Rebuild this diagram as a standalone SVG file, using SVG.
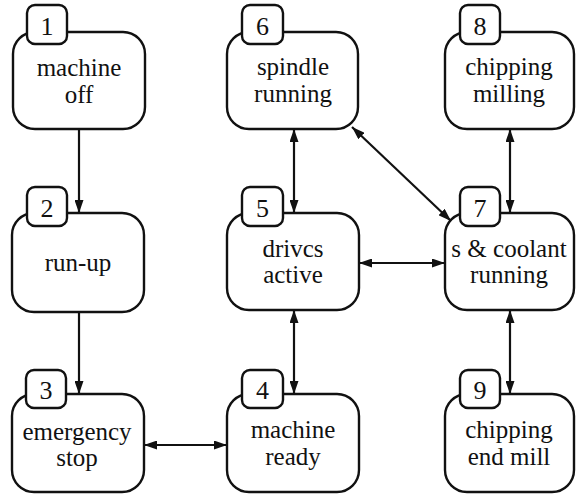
<svg xmlns="http://www.w3.org/2000/svg" width="577" height="498" viewBox="0 0 577 498">
  <defs>
    <marker id="head" viewBox="0 0 13 9" refX="13" refY="4.5" markerWidth="13" markerHeight="9" markerUnits="userSpaceOnUse" orient="auto-start-reverse">
      <path d="M0,0 L13,4.5 L0,9 z" fill="#111"/>
    </marker>
    <style>
      .box { fill: #fff; stroke: #111; stroke-width: 2.4; }
      .badge { fill: #fff; stroke: #111; stroke-width: 2.4; }
      text { font-family: "Times New Roman", Times, "Liberation Serif", "Noto Serif", "DejaVu Serif", serif; fill: #111; text-anchor: middle; }
      .lbl { font-size: 25px; }
      .num { font-size: 26px; }
      .one { fill: none; stroke: #111; stroke-width: 2.2; marker-end: url(#head); }
      .two { fill: none; stroke: #111; stroke-width: 2.2; marker-start: url(#head); marker-end: url(#head); }
    </style>
  </defs>

  <rect width="577" height="498" fill="#fff"/>

  <!-- state transitions -->
  <g id="connectors">
    <path class="one" d="M79,129 L79,213"/>
    <path class="one" d="M79,312 L79,394"/>
    <path class="two" d="M144,445 L227,445"/>
    <path class="two" d="M294,310 L294,394"/>
    <path class="two" d="M294,129 L294,213"/>
    <path class="two" d="M359,263 L445,263"/>
    <path class="two" d="M352,127 L451,221"/>
    <path class="two" d="M510,129 L510,213"/>
    <path class="two" d="M510,310 L510,394"/>
  </g>

  <!-- top row -->
  <g id="node1">
    <rect class="box" x="13" y="32" width="132" height="97" rx="22"/>
    <rect class="badge" x="27" y="5" width="40" height="39" rx="8"/>
    <text class="num" x="47" y="35">1</text>
    <text class="lbl" x="79" y="76">machine</text>
    <text class="lbl" x="79" y="103">off</text>
  </g>
  <g id="node6">
    <rect class="box" x="227" y="32" width="131" height="97" rx="22"/>
    <rect class="badge" x="242" y="5" width="41" height="39" rx="8"/>
    <text class="num" x="262.5" y="35">6</text>
    <text class="lbl" x="293" y="75">spindle</text>
    <text class="lbl" x="293" y="102">running</text>
  </g>
  <g id="node8">
    <rect class="box" x="445" y="32" width="129" height="97" rx="22"/>
    <rect class="badge" x="460" y="5" width="40" height="39" rx="8"/>
    <text class="num" x="480" y="35">8</text>
    <text class="lbl" x="509" y="75">chipping</text>
    <text class="lbl" x="509" y="102">milling</text>
  </g>

  <!-- middle row -->
  <g id="node2">
    <rect class="box" x="12" y="213" width="132" height="99" rx="22"/>
    <rect class="badge" x="27" y="187" width="40" height="39" rx="8"/>
    <text class="num" x="47" y="217">2</text>
    <text class="lbl" x="78" y="271">run-up</text>
  </g>
  <g id="node5">
    <rect class="box" x="227" y="213" width="132" height="97" rx="22"/>
    <rect class="badge" x="242" y="187" width="41" height="39" rx="8"/>
    <text class="num" x="262.5" y="217">5</text>
    <text class="lbl" x="293" y="257">drivcs</text>
    <text class="lbl" x="293" y="283">active</text>
  </g>
  <g id="node7">
    <rect class="box" x="445" y="213" width="129" height="97" rx="22"/>
    <rect class="badge" x="460" y="187" width="40" height="39" rx="8"/>
    <text class="num" x="480" y="217">7</text>
    <text class="lbl" x="509" y="257">s &amp; coolant</text>
    <text class="lbl" x="509" y="283">running</text>
  </g>

  <!-- bottom row -->
  <g id="node3">
    <rect class="box" x="12" y="394" width="132" height="98" rx="22"/>
    <rect class="badge" x="26" y="370" width="40" height="38" rx="8"/>
    <text class="num" x="46" y="399">3</text>
    <text class="lbl" x="77" y="440">emergency</text>
    <text class="lbl" x="77" y="466">stop</text>
  </g>
  <g id="node4">
    <rect class="box" x="227" y="394" width="132" height="98" rx="22"/>
    <rect class="badge" x="242" y="370" width="41" height="38" rx="8"/>
    <text class="num" x="262.5" y="399">4</text>
    <text class="lbl" x="293" y="438">machine</text>
    <text class="lbl" x="293" y="465">ready</text>
  </g>
  <g id="node9">
    <rect class="box" x="445" y="394" width="129" height="98" rx="22"/>
    <rect class="badge" x="460" y="370" width="40" height="38" rx="8"/>
    <text class="num" x="480" y="399">9</text>
    <text class="lbl" x="509" y="438">chipping</text>
    <text class="lbl" x="509" y="465">end mill</text>
  </g>
</svg>
